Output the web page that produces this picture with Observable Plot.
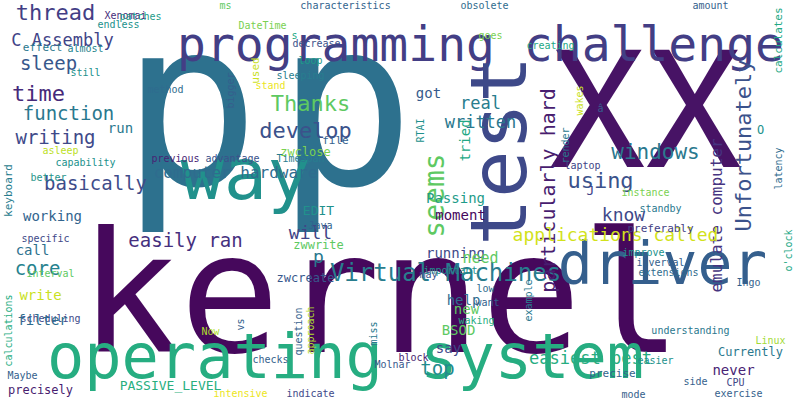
<!DOCTYPE html>
<html><head><meta charset="utf-8">
<script src="https://cdn.jsdelivr.net/npm/d3@7"></script>
<script src="https://cdn.jsdelivr.net/npm/@observablehq/plot@0.6"></script>
<style>body{margin:0;background:#fff}</style>
</head><body><div id="chart"></div>
<script>
// word, x, y, size, rotation, tone (viridis 0..1)
const words = ["p","p","XX","kernel","operating system","programming challenge","test","driver","way","Virtual Machines",
"Unfortunately","emulate computer","particularly hard","seems","Thanks","develop","thread","C Assembly","sleep","time",
"function","writing","basically","easily ran","computer hardware","windows","using","know","applications called","easiest best",
"top","core","EDIT","zwclose","will","zwwrite","zwcreate","p","ms","characteristics",
"obsolete","amount","calculates","Xenomai","patches","endless","effect","almost","still","asleep",
"capability","better","previous","method","advantage","TimeSpan","bigger","used","DateTime","sleeping",
"loop","stand","decrease","s","file","RTAI","got","real","written","tried",
"goes","creating","wakes","render","â","J","laptop","instance","standby","preferably",
"improve","inverval","extensions","latency","O","o'clock","Linux","Currently","CPU","exercise",
"side","easier","understanding","mode","precise","never","BSOD","say","help","new",
"running","moment","Passing","need","important","low","want","waking","miss","block",
"Molnar","Ingo","question","approach","Java","may","example","vs","checks","intensive",
"indicate","Now","scheduling","calculations","Maybe","precisely","PASSIVE_LEVEL","call","interval","specific",
"write","filter","keyboard","working","run"];
const xs = [190,345,645,380,345,480,500,662,245,445,
743,716,548,435,310,305,55,62,48,38,
68,55,95,185,235,655,600,623,615,590,
437,37,318,305,310,318,305,318,225,345,
484,710,778,125,140,118,42,85,85,60,
85,48,175,165,232,300,230,255,262,300,
310,270,316,294,335,420,428,480,480,465,
490,550,579,565,600,590,582,645,660,660,
643,660,668,778,760,788,770,750,735,738,
695,655,690,633,612,733,458,448,463,466,
455,460,455,480,450,485,487,476,373,413,
392,748,298,310,320,428,528,240,270,240,
310,210,50,8,22,40,170,32,50,45,
40,42,8,52,120];
const ys = [110,110,115,298,358,45,150,265,175,273,
145,215,190,195,103,130,12,40,63,93,
113,137,183,240,172,152,180,215,235,358,
368,268,210,152,233,245,278,257,5,5,
5,5,40,15,16,24,47,48,72,150,
162,177,158,89,158,158,90,70,25,75,
60,85,43,35,140,130,93,103,122,140,
35,45,100,145,108,190,165,192,208,228,
252,262,272,168,130,250,340,352,382,393,
381,360,330,394,373,370,330,348,300,309,
253,215,198,258,270,288,302,320,333,357,
364,282,331,330,225,274,300,324,359,393,
393,331,318,330,375,390,385,250,273,238,
295,320,190,216,128];
const sizes = [230,230,160,167,62,48,79,58,72,24,
22,16,20,28,22,22,22,17,19,22,
19,19,19,19,16,21,22,18,18,17,
19,19,13,12,18,12,12,18,10,10,
10,10,11,10,10,10,11,10,10,10,
10,10,10,10,10,10,10,11,10,10,
10,10,10,10,11,10,14,17,17,14,
10,10,10,10,10,13,10,10,10,11,
10,10,10,10,12,10,10,12,10,10,
10,10,10,10,11,14,14,14,14,14,
14,14,14,15,10,10,10,10,10,10,
10,10,10,10,10,10,10,10,10,10,
10,10,10,10,10,12,13,14,10,10,
14,14,11,14,14];
const rots = [0,0,0,0,0,0,-90,0,0,0,
-90,-90,-90,-90,0,0,0,0,0,0,
0,0,0,0,0,0,0,0,0,0,
0,0,0,0,0,0,0,0,0,0,
0,0,-90,0,0,0,0,0,0,0,
0,0,0,0,0,0,-90,-90,0,0,
0,0,0,0,0,-90,0,0,0,-90,
0,0,-90,-90,0,0,0,0,0,0,
0,0,0,-90,0,-90,0,0,0,0,
0,0,0,0,0,0,0,0,0,0,
0,0,0,0,0,0,0,0,-90,0,
0,0,-90,-90,0,0,-90,-90,0,0,
0,0,0,-90,0,0,0,0,0,0,
0,0,-90,0,0];
const tones = [0.37,0.37,0.05,0.02,0.62,0.18,0.22,0.3,0.5,0.42,
0.25,0.15,0.08,0.75,0.75,0.25,0.18,0.2,0.27,0.12,
0.4,0.22,0.23,0.14,0.35,0.4,0.25,0.22,0.93,0.62,
0.48,0.44,0.5,0.8,0.2,0.75,0.27,0.4,0.75,0.32,
0.35,0.3,0.6,0.13,0.55,0.5,0.4,0.45,0.5,0.9,
0.5,0.52,0.1,0.35,0.25,0.42,0.3,0.92,0.8,0.42,
0.55,0.97,0.25,0.6,0.3,0.5,0.28,0.42,0.4,0.6,
0.8,0.6,0.92,0.4,0.3,0.2,0.2,0.8,0.4,0.18,
0.5,0.3,0.35,0.35,0.5,0.6,0.86,0.4,0.2,0.3,
0.3,0.5,0.4,0.3,0.32,0.1,0.75,0.22,0.35,0.75,
0.22,0.02,0.55,0.75,0.5,0.35,0.3,0.62,0.4,0.08,
0.27,0.3,0.3,0.88,0.32,0.25,0.4,0.3,0.3,0.97,
0.22,0.88,0.22,0.62,0.3,0.08,0.63,0.37,0.75,0.22,
0.92,0.35,0.42,0.32,0.4];

const data = words.map((w, i) => ({w, x: xs[i], y: ys[i], size: sizes[i], rot: rots[i], tone: tones[i]}));

const chart = Plot.plot({
  width: 800, height: 400,
  margin: 0,
  x: {domain: [0, 800], axis: null},
  y: {domain: [0, 400], range: [0, 400], axis: null},
  color: {type: "linear", scheme: "viridis", domain: [0, 1]},
  style: {fontFamily: "DejaVu Sans Mono", background: "#fff"},
  marks: [
    Plot.text(data, {
      x: "x", y: "y", text: "w",
      fontSize: "size", rotate: "rot",
      fill: "tone",
      textAnchor: "middle", lineAnchor: "middle"
    })
  ]
});
document.getElementById("chart").append(chart);
</script>
</body></html>
